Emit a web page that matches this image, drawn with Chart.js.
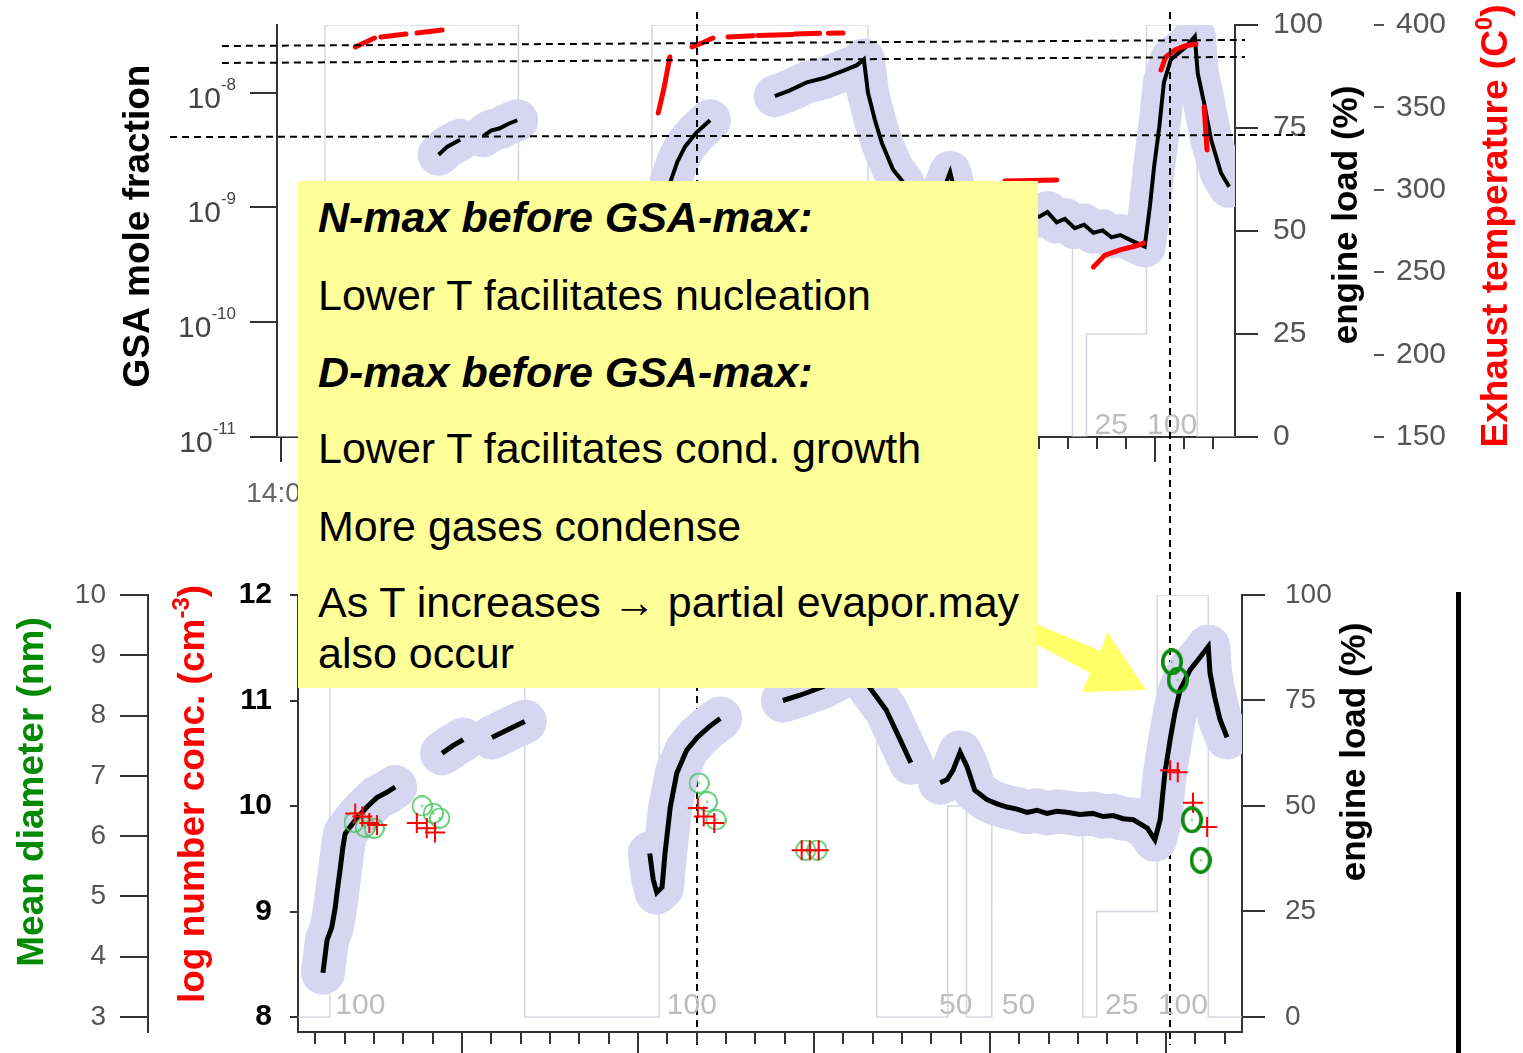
<!DOCTYPE html>
<html>
<head>
<meta charset="utf-8">
<script src="https://cdn.jsdelivr.net/npm/chart.js@4.4.1/dist/chart.umd.min.js"></script>
<style>
  html, body { margin: 0; padding: 0; background: #fff; }
  #page { position: relative; width: 1523px; height: 1053px; overflow: hidden; font-family: "Liberation Sans", Arial, sans-serif; }
  #gsa-top { position: absolute; left: 0; top: 0; }
  #particles-bottom { position: absolute; left: 0; top: 575px; }
  #edge { position: absolute; left: 1456px; top: 592px; width: 5px; height: 461px; background: #000; }
  .note { position: absolute; left: 298px; top: 181px; width: 740px; height: 507px; background: #ffff99; }
  .note div { position: absolute; left: 20px; font-size: 43px; line-height: 43px; white-space: nowrap; color: #000; }
  .note .h { font-weight: bold; font-style: italic; }
  #arrow { position: absolute; left: 0; top: 0; }
</style>
</head>
<body>
<div id="page">
  <canvas id="gsa-top" width="1523" height="1053"></canvas>
  <canvas id="particles-bottom" width="1523" height="478"></canvas>
  <div id="edge"></div>
  <div class="note">
    <div class="h" style="top:15px">N-max before GSA-max:</div>
    <div style="top:93px">Lower T facilitates nucleation</div>
    <div class="h" style="top:170px">D-max before GSA-max:</div>
    <div style="top:246px">Lower T facilitates cond. growth</div>
    <div style="top:324px">More gases condense</div>
    <div style="top:400px">As T increases → partial evapor.may</div>
    <div style="top:451px">also occur</div>
  </div>
  <svg id="arrow" width="1523" height="1053">
    <polygon points="1036,624 1101,651 1107,632 1146,690 1082,692 1090,673 1036,644" fill="#ffff66" />
  </svg>
</div>
<script>
const FONT = '"Liberation Sans", Arial, sans-serif';

// time axis: minutes after 14:00
const hourLabels = { 0: "14:00", 60: "15:00", 120: "16:00" };

// engine load program (%), each level starts at the given minute
const loadStepMin = [-2, 7.5, 40.7, 63.6, 100.7, 112.8, 116.0, 120.3, 135.8, 138.2, 148.5, 157.2, 166];
const loadStepPct = [0, 100, 0, 100, 0, 50, 0, 50, 0, 25, 100, 0, 0];
const loadLabelMin = [8.4, 64.9, 111.3, 122.0, 139.6, 148.6];
const loadLabelPct = [100, 100, 50, 50, 25, 100];

// top panel: GSA mole fraction (log10) and exhaust temperature
const gsaMin = [27.0, 28.5, 30.7, null, 34.6, 36.0, 37.5, 39.0, 40.5, null,
  64.7, 65.4, 66.9, 68.0, 69.3, 71.2, 73.6, null,
  84.7, 87.3, 90.2, 93.3, 96.4, 98.8, 100.0, 100.7, 101.9, 103.1, 105.0, 106.6, 108.0, null,
  112.5, 114.0, 114.8, 115.8, 117.5, 120.0, 124.0, 127.0, 130.1, 131.5,
  133.1, 134.5, 136.2, 137.8, 139.4, 141.0, 142.5, 144.0, 145.6, 148.2,
  149.1, 149.8, 150.7, 151.5, 152.7, 155.3, 156.8, 157.3, 158.4, 159.6, 161.3, 162.7];
const gsaExp = [-8.54, -8.47, -8.41, null, -8.38, -8.33, -8.31, -8.27, -8.24, null,
  -9.6, -9.2, -8.76, -8.6, -8.47, -8.35, -8.24, null,
  -8.03, -7.98, -7.91, -7.87, -7.81, -7.76, -7.71, -8.0, -8.24, -8.44, -8.67, -8.77, -8.93, null,
  -9.0, -8.8, -8.69, -8.9, -9.0, -9.03, -9.05, -9.07, -9.08, -9.04,
  -9.13, -9.1, -9.18, -9.15, -9.22, -9.2, -9.26, -9.24, -9.28, -9.34,
  -8.99, -8.65, -8.30, -7.91, -7.71, -7.60, -7.51, -7.83, -8.09, -8.41, -8.70, -8.82];

const exhMin = [12.7, 16.0, null, 17.1, 21.4, null, 23.3, 27.6, null,
  64.7, 65.7, 66.7, null, 70.5, 72.5, 74.1, null,
  76.7, 81.0, null, 81.8, 87.8, null, 88.1, 92.4, null, 93.9, 96.4, null,
  124.2, 133.1, null, 139.4, 141.4, 144.0, 146.6, 148.0, null,
  151.0, 151.8, 153.4, 155.1, 157.0, null, 158.4, 158.9];
const exhC = [386.7, 392.1, null, 392.7, 394.5, null, 395.1, 397.0, null,
  346.6, 362.0, 380.6, null, 386.7, 389.5, 392.1, null,
  392.7, 393.5, null, 393.7, 394.3, null, 394.5, 395.0, null, 395.0, 395.1, null,
  305.3, 306.0, null, 253.2, 260.4, 263.5, 265.9, 267.7, null,
  372.7, 380.6, 384.8, 387.3, 388.5, null, 350.2, 324.2];

// guide lines
const eventMin = [71.35, 152.54];
const refFromMin = [-10.2, -10.2, -19.1];
const refFromExp = [-7.593, -7.741, -8.386];
const refToMin = [165.4, 165.4, 175.7];
const refToExp = [-7.540, -7.688, -8.368];

// bottom panel: log number concentration, markers, mean diameter
const nMin = [6.3, 7.0, 7.8, 8.4, 8.7, 9.2, 9.7, 10.1, 10.9, 12.3, 13.8, 15.5, 17.2, 18.6, null,
  26.6, 28.4, 30.2, null, 35.1, 37.7, 40.7, null,
  62.0, 62.6, 63.2, 64.1, 64.6, 65.5, 66.6, 68.3, 70.1, 72.1, 74.0, null,
  84.7, 87.6, 91.5, 95.3, 98.9, 99.4, 102.3, 104.5, 106.5, null,
  111.5, 112.7, 113.7, 114.9, 116.1, 117.4, 119.5, 121.2, 122.9, 124.6,
  126.3, 128.0, 129.7, 131.4, 133.1, 135.3, 137.5, 139.3, 141.0, 142.7,
  144.4, 146.8, 148.1, 149.0, 149.8, 150.7, 151.5, 152.4, 154.1, 155.8,
  157.2, 157.5, 158.3, 159.2, 160.4];
const nLog = [8.42, 8.73, 8.85, 9.04, 9.18, 9.39, 9.61, 9.74, 9.80, 9.90, 9.99, 10.08, 10.13, 10.18, null,
  10.50, 10.57, 10.63, null, 10.65, 10.72, 10.80, null,
  9.55, 9.30, 9.18, 9.23, 9.55, 9.99, 10.31, 10.53, 10.65, 10.75, 10.83, null,
  11.00, 11.05, 11.13, 11.24, 11.34, 11.13, 10.91, 10.65, 10.41, null,
  10.22, 10.25, 10.34, 10.51, 10.37, 10.15, 10.06, 10.02, 9.99, 9.97,
  9.94, 9.96, 9.93, 9.95, 9.94, 9.92, 9.93, 9.90, 9.91, 9.88,
  9.87, 9.79, 9.68, 9.87, 10.31, 10.63, 10.88, 11.10, 11.29, 11.41,
  11.51, 11.26, 11.03, 10.82, 10.65];

const plusMin = [11.8, 13.0, 14.2, 15.5, 22.3, 24.0, 25.4, 70.2, 71.2, 73.0, 87.9, 89.3, 90.8, 150.7, 152.0, 154.6, 157.0];
const plusLog = [9.93, 9.90, 9.84, 9.82, 9.84, 9.79, 9.75, 9.98, 9.90, 9.84, 9.58, 9.58, 9.58, 10.34, 10.32, 10.03, 9.80];

const diaMin = [11.6, 13.5, 15.0, 23.2, 25.1, 26.2, 70.4, 71.8, 73.3, 88.6, 90.5];
const diaNm = [6.23, 6.15, 6.13, 6.50, 6.38, 6.30, 6.88, 6.57, 6.27, 5.77, 5.77];
const diaLateMin = [151.0, 152.0, 154.4, 155.9];
const diaLateNm = [8.89, 8.59, 6.27, 5.60];

// tick values
const gsaTickExp = [-11, -10, -9, -8];
const loadTicks = [0, 25, 50, 75, 100];
const tempTicks = [150, 200, 250, 300, 350, 400];
const nTicks = [8, 9, 10, 11, 12];
const diaTicks = [3, 4, 5, 6, 7, 8, 9, 10];

const LAVENDER = "rgb(214,214,240)";
const STEP_GREY = "rgba(200,200,214,0.75)";

const pts = (xs, ys) => xs.map((x, i) => ({ x: x === null ? xs[i - 1] : x, y: ys[i] }));
const fixTicks = (values) => (scale) => { scale.ticks = values.map((v) => ({ value: v })); };
const minuteTicks = (from, to) => (scale) => {
    const list = [];
    for (let v = from; v <= to; v += 5) list.push({ value: v });
    scale.ticks = list;
};
// fixed axis sizes, and no extra room asked for the tick labels
const noPad = (s) => { s.paddingTop = 0; s.paddingBottom = 0; s.paddingLeft = 0; s.paddingRight = 0; };
const fitWidth = (w) => (s) => { s.width = w; noPad(s); };
const fitHeight = (h) => (s) => { s.height = h; noPad(s); };

function ringImage(w, h, lw, color, dot) {
    const c = document.createElement("canvas");
    c.width = w;
    c.height = h;
    const g = c.getContext("2d");
    g.strokeStyle = color;
    g.lineWidth = lw;
    g.beginPath();
    g.ellipse(w / 2, h / 2, w / 2 - lw / 2, h / 2 - lw / 2, 0, 0, Math.PI * 2);
    g.stroke();
    g.fillStyle = dot;
    g.fillRect(w / 2 - 1, h / 2 - 1, 2, 2);
    return c;
}

// text with superscript pieces, optionally rotated
function drawRich(ctx, parts, x, y, o) {
    const font = (p) => `${o.weight || "normal"} ${p.sup ? o.supSize : o.size}px ${FONT}`;
    const widths = parts.map((p) => { ctx.font = font(p); return ctx.measureText(p.text).width; });
    const total = widths.reduce((a, b) => a + b, 0);
    ctx.save();
    ctx.translate(x, y);
    if (o.rotate) ctx.rotate(o.rotate);
    ctx.fillStyle = o.color;
    ctx.textAlign = "left";
    ctx.textBaseline = "alphabetic";
    let cx = o.align === "right" ? -total : o.align === "left" ? 0 : -total / 2;
    parts.forEach((p, i) => {
        ctx.font = font(p);
        ctx.fillText(p.text, cx, (o.shift || 0) - (p.sup ? o.supRise : 0));
        cx += widths[i];
    });
    ctx.restore();
}

function drawTitles(chart, titles) {
    titles.forEach((t) => {
        drawRich(chart.ctx, t.parts, t.x, t.y, {
            size: t.size, supSize: Math.round(t.size * 0.65), supRise: t.size * 0.4,
            weight: "bold", color: t.color, rotate: -Math.PI / 2, shift: t.size * 0.35,
        });
    });
}

function drawLoadLabels(chart) {
    const { ctx, scales } = chart;
    ctx.save();
    ctx.font = `30px ${FONT}`;
    ctx.fillStyle = "#bdbdbd";
    ctx.textAlign = "left";
    ctx.textBaseline = "alphabetic";
    loadLabelMin.forEach((t, i) => {
        ctx.fillText(String(loadLabelPct[i]), scales.x.getPixelForValue(t), scales.yL.getPixelForValue(0) - 3);
    });
    ctx.restore();
}

function drawMajorTicks(chart) {
    const { ctx } = chart;
    const s = chart.scales.x;
    ctx.save();
    ctx.strokeStyle = "#333";
    ctx.lineWidth = 2;
    s.ticks.forEach((t) => {
        if (t.value % 30 !== 0) return;
        const x = Math.round(s.getPixelForValue(t.value));
        ctx.beginPath();
        ctx.moveTo(x, s.top + 12);
        ctx.lineTo(x, s.top + 25);
        ctx.stroke();
    });
    ctx.restore();
}

const stepDataset = {
    label: "engine load",
    data: pts(loadStepMin, loadStepPct),
    yAxisID: "yL",
    stepped: true,
    borderColor: STEP_GREY,
    borderWidth: 1.5,
    pointRadius: 0,
    order: 5,
};

const baseOptions = {
    responsive: false,
    animation: false,
    devicePixelRatio: 1,
    events: [],
    plugins: { legend: { display: false }, tooltip: { enabled: false } },
};

// ---------- top panel ----------
const topDecor = {
    id: "topDecor",
    beforeDatasetsDraw(chart) { drawLoadLabels(chart); },
    afterDatasetsDraw(chart) {
        const { ctx, scales } = chart;
        ctx.save();
        ctx.strokeStyle = "#000";
        ctx.lineWidth = 2;
        ctx.setLineDash([7, 5]);
        refFromMin.forEach((t0, i) => {
            ctx.beginPath();
            ctx.moveTo(scales.x.getPixelForValue(t0), scales.yG.getPixelForValue(refFromExp[i]));
            ctx.lineTo(scales.x.getPixelForValue(refToMin[i]), scales.yG.getPixelForValue(refToExp[i]));
            ctx.stroke();
        });
        eventMin.forEach((t) => {
            const x = Math.round(scales.x.getPixelForValue(t));
            ctx.beginPath();
            ctx.moveTo(x, 12);
            ctx.lineTo(x, 1045);
            ctx.stroke();
        });
        ctx.restore();
    },
    afterDraw(chart) {
        const { ctx, scales } = chart;
        gsaTickExp.forEach((e) => {
            drawRich(ctx, [{ text: "10" }, { text: String(e), sup: true }], 236, scales.yG.getPixelForValue(e) + 15,
                { size: 30, supSize: 17, supRise: 18, color: "#444", align: "right" });
        });
        drawMajorTicks(chart);
        drawTitles(chart, [
            { parts: [{ text: "GSA mole fraction" }], x: 136, y: 226, size: 37, color: "#000" },
            { parts: [{ text: "engine load (%)" }], x: 1345, y: 215, size: 35, color: "#000" },
            { parts: [{ text: "Exhaust temperature (C" }, { text: "0", sup: true }, { text: ")" }], x: 1494, y: 226, size: 37, color: "#ff0000" },
        ]);
    },
};

new Chart(document.getElementById("gsa-top"), {
    type: "line",
    data: {
        datasets: [
            stepDataset,
            {
                label: "GSA uncertainty",
                data: pts(gsaMin, gsaExp),
                yAxisID: "yG",
                borderColor: LAVENDER,
                borderWidth: 42,
                borderCapStyle: "round",
                borderJoinStyle: "round",
                pointRadius: 0,
                order: 4,
            },
            {
                label: "GSA",
                data: pts(gsaMin, gsaExp),
                yAxisID: "yG",
                borderColor: "#000",
                borderWidth: 4,
                pointRadius: 0,
                order: 3,
            },
            {
                label: "Exhaust temperature",
                data: pts(exhMin, exhC),
                yAxisID: "yT",
                borderColor: "#ff0000",
                borderWidth: 5,
                borderCapStyle: "round",
                pointRadius: 0,
                order: 2,
            },
        ],
    },
    options: {
        ...baseOptions,
        layout: { padding: { top: 25, left: 0, right: 0, bottom: 0 } },
        scales: {
            x: {
                type: "linear",
                position: "bottom",
                min: -0.74,
                max: 163.7,
                afterFit: fitHeight(616),
                afterBuildTicks: minuteTicks(0, 160),
                border: { color: "#333", width: 2 },
                grid: { drawOnChartArea: false, tickLength: 12, color: "#333", lineWidth: 2 },
                ticks: {
                    autoSkip: false, maxRotation: 0, padding: 28, color: "#666",
                    font: { family: FONT, size: 28 },
                    callback: (v) => hourLabels[Math.round(v)] || "",
                },
            },
            yG: {
                type: "linear",
                position: "left",
                weight: 0,
                min: -11,
                max: -7.41,
                afterFit: fitWidth(277),
                afterBuildTicks: fixTicks(gsaTickExp),
                border: { color: "#333", width: 2 },
                grid: { drawOnChartArea: false, tickLength: 27, color: "#333", lineWidth: 2 },
                ticks: { display: false },
            },
            yL: {
                type: "linear",
                position: "right",
                weight: 0,
                min: 0,
                max: 100,
                afterFit: fitWidth(139),
                afterBuildTicks: fixTicks(loadTicks),
                border: { color: "#333", width: 2 },
                grid: { drawOnChartArea: false, tickLength: 23, color: "#333", lineWidth: 2 },
                ticks: { padding: 15, color: "#555", font: { family: FONT, size: 30 } },
            },
            yT: {
                type: "linear",
                position: "right",
                weight: 1,
                min: 150,
                max: 400,
                afterFit: fitWidth(149),
                afterBuildTicks: fixTicks(tempTicks),
                border: { display: false },
                grid: { drawOnChartArea: false, tickLength: 10, color: "#555", lineWidth: 2 },
                ticks: { padding: 12, color: "#555", font: { family: FONT, size: 30 } },
            },
        },
    },
    plugins: [topDecor],
});

// ---------- bottom panel ----------
const bottomDecor = {
    id: "bottomDecor",
    beforeDatasetsDraw(chart) { drawLoadLabels(chart); },
    afterDraw(chart) {
        drawMajorTicks(chart);
        drawTitles(chart, [
            { parts: [{ text: "Mean diameter (nm)" }], x: 30, y: 217, size: 37, color: "#008a00" },
            { parts: [{ text: "log number conc. (cm" }, { text: "-3", sup: true }, { text: ")" }], x: 191, y: 219, size: 37, color: "#ff0000" },
            { parts: [{ text: "engine load (%)" }], x: 1353, y: 177, size: 35, color: "#000" },
        ]);
    },
};

new Chart(document.getElementById("particles-bottom"), {
    type: "line",
    data: {
        datasets: [
            stepDataset,
            {
                label: "N uncertainty",
                data: pts(nMin, nLog),
                yAxisID: "yN",
                borderColor: LAVENDER,
                borderWidth: 44,
                borderCapStyle: "round",
                borderJoinStyle: "round",
                pointRadius: 0,
                order: 4,
            },
            {
                label: "log N",
                data: pts(nMin, nLog),
                yAxisID: "yN",
                borderColor: "#000",
                borderWidth: 5,
                pointRadius: 0,
                order: 3,
            },
            {
                label: "log N (sampler)",
                data: pts(plusMin, plusLog),
                yAxisID: "yN",
                showLine: false,
                pointStyle: "cross",
                pointRadius: 10,
                pointBorderWidth: 2,
                pointBorderColor: "#ff0000",
                order: 1,
            },
            {
                label: "Mean diameter",
                data: pts(diaMin, diaNm),
                yAxisID: "yD",
                showLine: false,
                pointStyle: ringImage(21, 21, 1.6, "rgb(70,195,95)", "rgb(70,195,95)"),
                order: 2,
            },
            {
                label: "Mean diameter (late)",
                data: pts(diaLateMin, diaLateNm),
                yAxisID: "yD",
                showLine: false,
                pointStyle: ringImage(22, 27, 3.6, "#0a8a0a", "#66cc66"),
                order: 0,
            },
        ],
    },
    options: {
        ...baseOptions,
        layout: { padding: { top: 20, left: 0, right: 0, bottom: 0 } },
        scales: {
            x: {
                type: "linear",
                position: "bottom",
                min: 2.045,
                max: 162.95,
                afterFit: fitHeight(21),
                afterBuildTicks: minuteTicks(5, 160),
                border: { color: "#333", width: 2 },
                grid: { drawOnChartArea: false, tickLength: 12, color: "#333", lineWidth: 2 },
                ticks: { display: false },
            },
            yD: {
                type: "linear",
                position: "left",
                weight: 1,
                min: 2.751,
                max: 10,
                afterFit: fitWidth(148),
                afterBuildTicks: fixTicks(diaTicks),
                border: { color: "#333", width: 2 },
                grid: { drawOnChartArea: false, tickLength: 28, color: "#333", lineWidth: 2 },
                ticks: { padding: 14, color: "#555", font: { family: FONT, size: 28 } },
            },
            yN: {
                type: "linear",
                position: "left",
                weight: 0,
                min: 7.858,
                max: 12,
                afterFit: fitWidth(150),
                afterBuildTicks: fixTicks(nTicks),
                border: { color: "#333", width: 2 },
                grid: { drawOnChartArea: false, tickLength: 8, color: "#333", lineWidth: 2 },
                ticks: { padding: 18, color: "#000", font: { family: FONT, size: 30, weight: "bold" } },
            },
            yL: {
                type: "linear",
                position: "right",
                min: -3.555,
                max: 100,
                afterFit: fitWidth(281),
                afterBuildTicks: fixTicks(loadTicks),
                border: { color: "#333", width: 2 },
                grid: { drawOnChartArea: false, tickLength: 23, color: "#333", lineWidth: 2 },
                ticks: { padding: 20, color: "#555", font: { family: FONT, size: 28 } },
            },
        },
    },
    plugins: [bottomDecor],
});
</script>
</body>
</html>
